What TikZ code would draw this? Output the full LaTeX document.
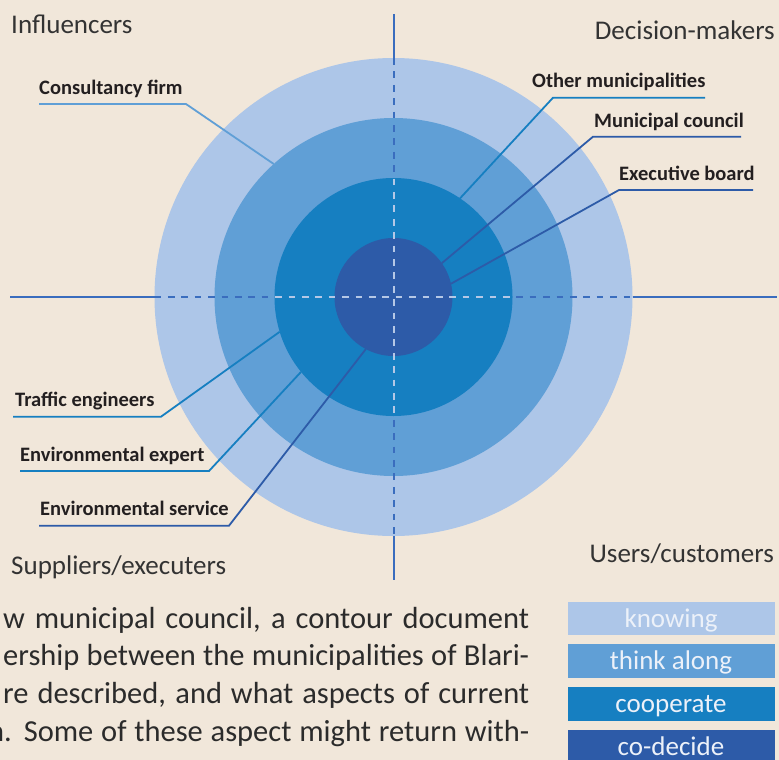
\documentclass[tikz,border=0pt]{standalone}
\usepackage{fontspec}
\setmainfont{Carlito}
\begin{document}
\begin{tikzpicture}[x=1pt,y=-1pt,
    ring/.style={circle,draw=none,inner sep=0pt,outer sep=0pt},
    axis/.style={line width=2pt,color=r58g109b190},
    dashaxis/.style={axis,dash pattern=on 6.7pt off 6.7pt},
    lead/.style={line width=1.8pt},
    lbl/.style={font=\fontsize{20.5}{24}\selectfont\bfseries,text=r35g31b32,inner sep=0pt,anchor=base west},
    quad/.style={font=\fontsize{27}{32}\selectfont,text=r51g51b51,inner sep=0pt},
    body/.style={font=\fontsize{30.5}{36}\selectfont,text=r43g43b43,inner sep=0pt,anchor=base west},
    key/.style={minimum width=207pt,minimum height=33.5pt,inner sep=0pt,text height=20pt,text depth=2.5pt,
        text=r236g241b249,font=\fontsize{27}{32}\selectfont}]

    % Colours
    \definecolor{r241g231b218}{RGB}{241,231,218}%
    \definecolor{r173g198b232}{RGB}{173,198,232}%
    \definecolor{r96g159b214}{RGB}{96,159,214}%
    \definecolor{r22g127b193}{RGB}{22,127,193}%
    \definecolor{r45g91b168}{RGB}{45,91,168}%
    \definecolor{r58g109b190}{RGB}{58,109,190}%
    \definecolor{r181g200b230}{RGB}{181,200,230}%
    \definecolor{r35g31b32}{RGB}{35,31,32}%
    \definecolor{r51g51b51}{RGB}{51,51,51}%
    \definecolor{r43g43b43}{RGB}{43,43,43}%
    \definecolor{r236g241b249}{RGB}{236,241,249}%

    % Page
    \useasboundingbox (0,0) rectangle (779,760);
    \fill[r241g231b218] (0,0) rectangle (779,760);

    % Filling rings, outer to inner
    \node[ring,fill=r173g198b232,minimum size=478pt] (knowing) at (393.5,297) {};
    \node[ring,fill=r96g159b214,minimum size=358pt] (think) at (393.5,297) {};
    \node[ring,fill=r22g127b193,minimum size=238pt] (coop) at (393.5,297) {};
    \node[ring,fill=r45g91b168,minimum size=118pt] (decide) at (393.5,297) {};

    % Drawing axes
    \coordinate (top) at (393.5,14);
    \coordinate (bottom) at (393.5,580);
    \coordinate (left) at (10,297);
    \coordinate (right) at (777,297);
    \draw[axis] (top) -- (knowing.north);
    \draw[axis] (knowing.south) -- (bottom);
    \draw[axis] (left) -- (knowing.west);
    \draw[axis] (knowing.east) -- (right);
    \draw[dashaxis] (knowing.north) -- (knowing.south);
    \draw[dashaxis] (knowing.west) -- (knowing.east);
    \begin{scope}
        \clip (393.5,297) circle (119);
        \draw[dashaxis,color=r181g200b230] (knowing.north) -- (knowing.south);
        \draw[dashaxis,color=r181g200b230] (knowing.west) -- (knowing.east);
    \end{scope}

    % Quadrant names
    \node[quad,anchor=base west] (influencers) at (11,34) {Influencers};
    \node[quad,anchor=base east] (deciders) at (775,40) {Decision-makers};
    \node[quad,anchor=base west] (suppliers) at (11,574) {Suppliers/executers};
    \node[quad,anchor=base east] (users) at (774,562) {Users/customers};

    % Marking actors
    \node[lbl] (consult) at (39,94) {Consultancy firm};
    \coordinate (consult-a) at (39,104);
    \coordinate (consult-b) at (186,104);
    \draw[lead,r96g159b214] (consult-a) -- (consult-b) -- (think.132.3);

    \node[lbl] (others) at (532,88) {Other municipalities};
    \coordinate (others-a) at (705,97.7);
    \coordinate (others-b) at (553,97.7);
    \draw[lead,r22g127b193] (others-a) -- (others-b) -- (coop.56.2);

    \node[lbl] (council) at (594,127) {Municipal council};
    \coordinate (council-a) at (741,136.7);
    \coordinate (council-b) at (593,136.7);
    \draw[lead,r45g91b168] (council-a) -- (council-b) -- (decide.35);

    \node[lbl] (board) at (619,180) {Executive board};
    \coordinate (board-a) at (753,190);
    \coordinate (board-b) at (619,190);
    \draw[lead,r45g91b168] (board-a) -- (board-b) -- (decide.13.3);

    \node[lbl] (traffic) at (15,406) {Traffic engineers};
    \coordinate (traffic-a) at (13,416.7);
    \coordinate (traffic-b) at (161,416.7);
    \draw[lead,r22g127b193] (traffic-a) -- (traffic-b) -- (coop.197.2);

    \node[lbl] (expert) at (20,461) {Environmental expert};
    \coordinate (expert-a) at (20,471);
    \coordinate (expert-b) at (209,471);
    \draw[lead,r22g127b193] (expert-a) -- (expert-b) -- (coop.219.9);

    \node[lbl] (service) at (40,515) {Environmental service};
    \coordinate (service-a) at (39,525.7);
    \coordinate (service-b) at (229,525.7);
    \draw[lead,r45g91b168] (service-a) -- (service-b) -- (decide.242.2);

    % Running text, one justified line each
    \node[body] (line1) at (3,628) {\hbox to 526pt{w municipal council, a contour document}};
    \node[body] (line2) at (3,665) {\hbox to 526pt{ership between the municipalities of Blari-}};
    \node[body] (line3) at (3,703) {\hbox to 526pt{re described, and what aspects of current}};
    \node[body] (line4) at (-12,741) {\hbox to 541pt{n. Some of these aspect might return with-}};

    % Legend
    \node[key,fill=r173g198b232] (kknowing) at (671,618.5) {knowing};
    \node[key,fill=r96g159b214] (kthink) at (671,661) {think along};
    \node[key,fill=r22g127b193] (kcoop) at (671,704) {cooperate};
    \node[key,fill=r45g91b168] (kdecide) at (671,746.5) {co-decide};
\end{tikzpicture}
\end{document}
